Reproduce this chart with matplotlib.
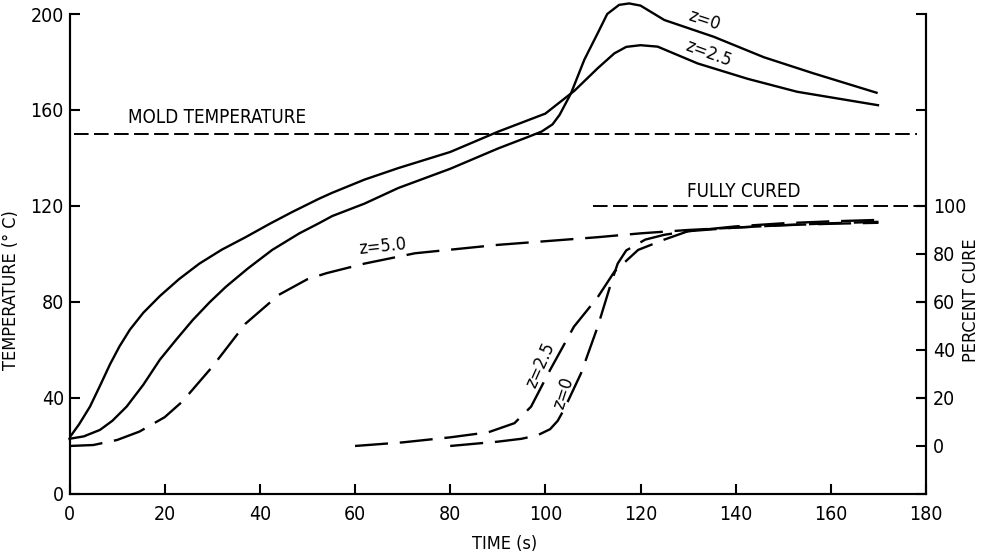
import matplotlib
matplotlib.use('Agg')
from matplotlib import pyplot as plt

plt.rcParams['font.family'] = ['Liberation Sans Narrow', 'DejaVu Sans']
plt.rcParams['font.stretch'] = 'condensed'

# temperature at z=0 (solid)
t_z0 = [0, 3, 6.4, 9, 12, 15.5, 19, 22.5, 25.9, 29.5, 32.9, 37.5, 42.6, 48.3, 52.4,
        55.2, 62, 69.1, 80, 90.1, 96, 99.2, 101.5, 103, 105.4, 108.2, 111, 113,
        115.5, 117.6, 120, 125, 135.4, 145.9, 156.3, 169.6]
temp_z0 = [23, 24, 26.7, 30.5, 36.4, 45.5, 56, 64.5, 72.5, 80, 86.4, 94, 101.7, 108.6,
           112.8, 115.8, 121, 127.5, 135.5, 144, 148.5, 151, 154, 158, 167, 181, 192,
           200, 203.8, 204.4, 203.5, 197.5, 190.5, 182, 175.3, 167.2]

# temperature at z=2.5 (solid)
t_z25 = [0, 2, 4.3, 6.5, 8.5, 10.5, 12.7, 15.5, 19, 23, 27.3, 32, 37, 42, 46.8, 52.4,
         55.2, 62, 69.1, 80, 90.1, 100, 106.1, 111, 114.5, 117, 120, 123.6, 132,
         142.5, 152.9, 169.9]
temp_z25 = [23.5, 29, 36.4, 45.5, 54, 61.5, 68.5, 75.5, 82.5, 89.5, 96, 101.8, 107, 112.5,
            117.5, 123, 125.5, 131, 135.8, 142.5, 151, 158.5, 168, 177.4, 183.6, 186.3,
            187, 186.4, 179.4, 173, 167.6, 162]

# temperature at z=5.0 (dashed)
t_z5 = [0, 5, 10, 14.7, 20, 23.7, 30, 37, 44, 50, 54, 62, 72.6, 90, 111, 120,
        130, 140, 150, 160, 170]
temp_z5 = [20, 20.4, 22.5, 26, 32, 38.5, 53, 71, 83, 89.5, 92, 96, 100.3, 103.8,
           107, 108.6, 110, 111, 112, 112.8, 113.4]

# percent cure, z=2.5 and z=0 (dashed)
t_c25 = [60, 70, 80, 88, 93.5, 97, 101, 106, 111, 114.5, 119.5, 125, 130, 140,
         150, 160, 170]
cure_c25 = [0, 1.5, 3.6, 5.7, 9.5, 16.4, 31.7, 49.7, 62, 72.6, 81.7, 86, 89.5, 91.5,
            92.8, 93.6, 94.2]
t_c0 = [80, 90, 95, 98.4, 101, 102.6, 104, 107.5, 111, 113.8, 115.2, 117, 121, 125, 130,
        140, 150, 160, 170]
cure_c0 = [0, 1.8, 3, 4.5, 7, 10.5, 15.5, 30.3, 49.7, 67.8, 76, 81.5, 86, 88, 89.5, 91,
           92, 92.6, 93]

mold_temp = 150
mold_span = [1, 178]
fully_cured = 100
cured_span = [110, 178]

xticks = list(range(0, 181, 20))
yticks = list(range(0, 201, 40))
cure_ticks = list(range(0, 101, 20))

fig = plt.figure(figsize=(9.82, 5.60), dpi=100)
ax = fig.add_axes([0.0708, 0.1179, 0.8722, 0.8571])
ax2 = ax.twinx()

lw = 1.7
long_dash = (0, (14, 5))
short_dash = (0, (7.5, 2.8))

ax.plot(t_z0, temp_z0, color='black', lw=lw, clip_on=False)
ax.plot(t_z25, temp_z25, color='black', lw=lw)
ax.plot(t_z5, temp_z5, color='black', lw=lw, linestyle=long_dash)
ax.plot(mold_span, [mold_temp, mold_temp], color='black', lw=1.4, linestyle=short_dash)

ax2.plot(t_c25, cure_c25, color='black', lw=lw, linestyle=long_dash)
ax2.plot(t_c0, cure_c0, color='black', lw=lw, linestyle=long_dash)
ax2.plot(cured_span, [fully_cured, fully_cured], color='black', lw=1.4, linestyle=short_dash)

ax.set_xlim(0, 180)
ax.set_ylim(0, 200)
ax2.set_ylim(-20, 180)

ax.set_xticks(xticks)
ax.set_yticks(yticks)
ax2.set_yticks(cure_ticks)

for a in (ax, ax2):
    a.spines['top'].set_visible(False)
    for s in a.spines.values():
        s.set_linewidth(1.5)

ax.tick_params(axis='both', direction='in', length=7, width=1.5, labelsize=14)
ax.tick_params(axis='x', pad=8)
ax.tick_params(axis='y', pad=4, right=True)
ax2.tick_params(axis='y', direction='in', length=7, width=1.5, labelsize=14, pad=5)

ax.set_xlabel('TIME (s)', fontsize=13)
ax.xaxis.set_label_coords(0.508, -0.085)
ax.set_ylabel('TEMPERATURE (° C)', fontsize=13)
ax.yaxis.set_label_coords(-0.058, 0.425)
ax2.set_ylabel('PERCENT CURE', fontsize=13, rotation=90)
ax2.yaxis.set_label_coords(1.042, 0.404)

ax.text(12.2, 156.7, 'MOLD TEMPERATURE', fontsize=13.5, va='center', ha='left')
ax.text(141.7, 126, 'FULLY CURED', fontsize=13.5, va='center', ha='center')
ax.text(133.4, 197.5, 'z=0', fontsize=13, va='center', ha='center', rotation=-18)
ax.text(134.2, 183.5, 'z=2.5', fontsize=13, va='center', ha='center', rotation=-20)
ax.text(65.8, 103.3, 'z=5.0', fontsize=13, va='center', ha='center', rotation=6)
ax.text(98.9, 53.8, 'z=2.5', fontsize=13, va='center', ha='center', rotation=66)
ax.text(103.9, 42, 'z=0', fontsize=13, va='center', ha='center', rotation=72)

fig.savefig('out.png', dpi=100)
